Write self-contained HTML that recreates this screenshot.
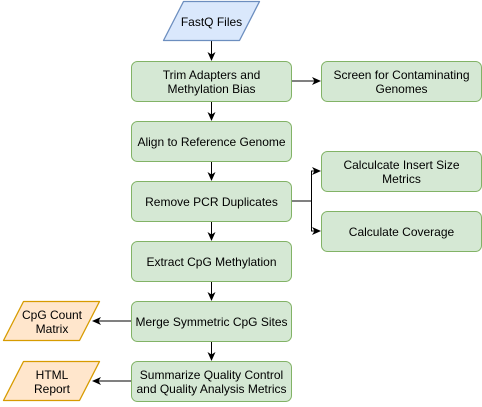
<!DOCTYPE html>
<html><head><style>body{margin:0;background:#fff}</style></head><body>
<svg width="482" height="402" xmlns="http://www.w3.org/2000/svg" font-family="Liberation Sans, sans-serif" font-size="12" text-anchor="middle">
<defs><marker id="a" markerWidth="10" markerHeight="10" refX="8" refY="5" orient="auto" markerUnits="userSpaceOnUse"><path d="M0,1 L9,5 L0,9 L2.5,5 Z" fill="#000"/></marker></defs>
<g stroke="#000" stroke-width="1" fill="none" marker-end="url(#a)">
<path d="M211.5 41V60"/><path d="M211.5 101V120"/><path d="M211.5 161V180"/><path d="M211.5 221V240"/><path d="M211.5 281V300"/><path d="M211.5 341V360"/>
<path d="M291.5 81H320"/>
<path d="M291.5 201H311.5V171H320"/><path d="M311.5 201V231H320"/>
<path d="M131.5 321H93"/><path d="M131.5 381H93"/>
</g>
<path d="M183.5 1.5H259.5L239.5 40.5H163.5Z" fill="#dae8fc" stroke="#6c8ebf" stroke-width="1.3" stroke-linejoin="round"/>
<path d="M23.5 301.5H99.5L79.5 340.5H3.5Z" fill="#ffe6cc" stroke="#d79b00" stroke-width="1.3" stroke-linejoin="round"/>
<path d="M23.5 361.5H99.5L79.5 400.5H3.5Z" fill="#ffe6cc" stroke="#d79b00" stroke-width="1.3" stroke-linejoin="round"/>
<g fill="#d5e8d4" stroke="#82b366">
<rect x="131.5" y="61.5" width="160" height="40" rx="6"/>
<rect x="131.5" y="121.5" width="160" height="40" rx="6"/>
<rect x="131.5" y="181.5" width="160" height="40" rx="6"/>
<rect x="131.5" y="241.5" width="160" height="40" rx="6"/>
<rect x="131.5" y="301.5" width="160" height="40" rx="6"/>
<rect x="131.5" y="361.5" width="160" height="40" rx="6"/>
<rect x="321.5" y="61.5" width="160" height="40" rx="6"/>
<rect x="321.5" y="151.5" width="160" height="40" rx="6"/>
<rect x="321.5" y="211.5" width="160" height="40" rx="6"/>
</g>
<g fill="#000">
<text x="211.5" y="26">FastQ Files</text>
<text x="211.5" y="79">Trim Adapters and</text><text x="211.5" y="93">Methylation Bias</text>
<text x="211.5" y="146">Align to Reference Genome</text>
<text x="211.5" y="206">Remove PCR Duplicates</text>
<text x="211.5" y="266">Extract CpG Methylation</text>
<text x="211.5" y="326">Merge Symmetric CpG Sites</text>
<text x="211.5" y="379">Summarize Quality Control</text><text x="211.5" y="393">and Quality Analysis Metrics</text>
<text x="401.5" y="79">Screen for Contaminating</text><text x="401.5" y="93">Genomes</text>
<text x="401.5" y="169">Calculcate Insert Size</text><text x="401.5" y="183">Metrics</text>
<text x="401.5" y="236">Calculate Coverage</text>
<text x="52" y="319">CpG Count</text><text x="52" y="333">Matrix</text>
<text x="52" y="379">HTML</text><text x="52" y="393">Report</text>
</g>
</svg>
</body></html>
